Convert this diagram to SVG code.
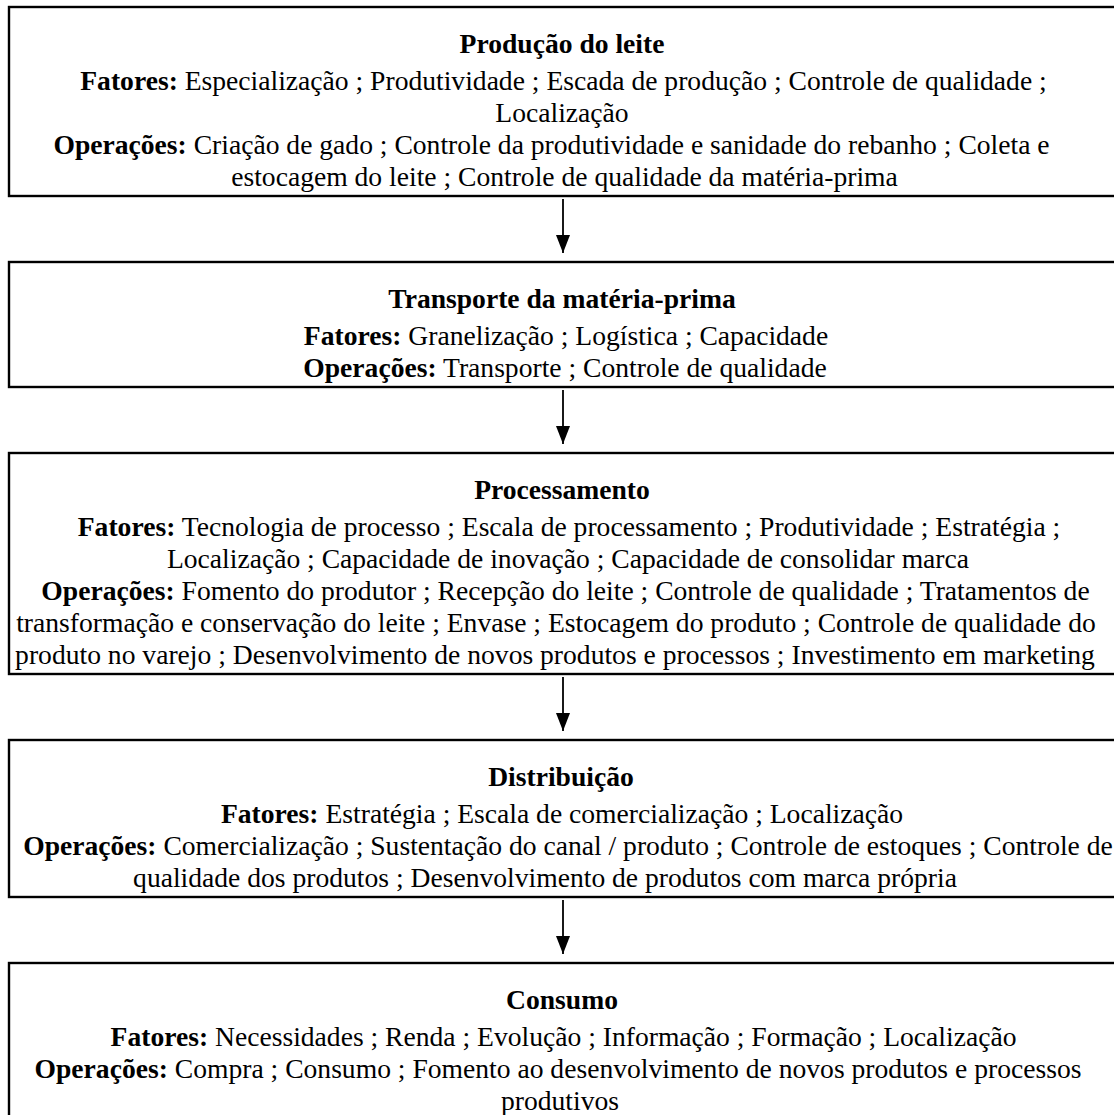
<svg xmlns="http://www.w3.org/2000/svg" width="1114" height="1115" viewBox="0 0 1114 1115">
<style>
.box{fill:#fff;stroke:#000;stroke-width:2.4}
text{font-family:"Liberation Serif","Times New Roman",serif;font-size:27.6px;fill:#000;text-anchor:middle}
.b{font-weight:bold}
.conn{stroke:#000;stroke-width:1.8;fill:none}
</style>
<defs>
<marker id="ah" viewBox="0 0 18 14" refX="18" refY="7" markerWidth="18" markerHeight="14" markerUnits="userSpaceOnUse" orient="auto">
<path d="M0,0 L18,7 L0,14 Z" fill="#000"/>
</marker>
</defs>
<rect width="1114" height="1115" fill="#fff"/>

<g id="connectors">
<line class="conn" x1="563" y1="199" x2="563" y2="253" marker-end="url(#ah)"/>
<line class="conn" x1="563" y1="390" x2="563" y2="444" marker-end="url(#ah)"/>
<line class="conn" x1="563" y1="677" x2="563" y2="731" marker-end="url(#ah)"/>
<line class="conn" x1="563" y1="900" x2="563" y2="954" marker-end="url(#ah)"/>
</g>

<g id="producao">
<rect class="box" x="9" y="7" width="1112" height="189"/>
<text x="562" y="53" class="b">Produção do leite</text>
<text x="563.5" y="90"><tspan class="b">Fatores:</tspan> Especialização ; Produtividade ; Escada de produção ; Controle de qualidade ;</text>
<text x="562" y="122">Localização</text>
<text x="551.5" y="154"><tspan class="b">Operações:</tspan> Criação de gado ; Controle da produtividade e sanidade do rebanho ; Coleta e</text>
<text x="564.5" y="186">estocagem do leite ; Controle de qualidade da matéria-prima</text>
</g>

<g id="transporte">
<rect class="box" x="9" y="262" width="1112" height="125"/>
<text x="562" y="308" class="b">Transporte da matéria-prima</text>
<text x="566" y="345"><tspan class="b">Fatores:</tspan> Granelização ; Logística ; Capacidade</text>
<text x="565" y="377"><tspan class="b">Operações:</tspan> Transporte ; Controle de qualidade</text>
</g>

<g id="processamento">
<rect class="box" x="9" y="453" width="1112" height="221"/>
<text x="562" y="499" class="b">Processamento</text>
<text x="569" y="536"><tspan class="b">Fatores:</tspan> Tecnologia de processo ; Escala de processamento ; Produtividade ; Estratégia ;</text>
<text x="568" y="568">Localização ; Capacidade de inovação ; Capacidade de consolidar marca</text>
<text x="565.5" y="600"><tspan class="b">Operações:</tspan> Fomento do produtor ; Recepção do leite ; Controle de qualidade ; Tratamentos de</text>
<text x="556" y="632">transformação e conservação do leite ; Envase ; Estocagem do produto ; Controle de qualidade do</text>
<text x="555" y="664">produto no varejo ; Desenvolvimento de novos produtos e processos ; Investimento em marketing</text>
</g>

<g id="distribuicao">
<rect class="box" x="9" y="740" width="1112" height="157"/>
<text x="561" y="786" class="b">Distribuição</text>
<text x="562" y="823"><tspan class="b">Fatores:</tspan> Estratégia ; Escala de comercialização ; Localização</text>
<text x="568" y="855"><tspan class="b">Operações:</tspan> Comercialização ; Sustentação do canal / produto ; Controle de estoques ; Controle de</text>
<text x="545" y="887">qualidade dos produtos ; Desenvolvimento de produtos com marca própria</text>
</g>

<g id="consumo">
<rect class="box" x="9" y="963" width="1112" height="160"/>
<text x="562" y="1009" class="b">Consumo</text>
<text x="563.5" y="1046"><tspan class="b">Fatores:</tspan> Necessidades ; Renda ; Evolução ; Informação ; Formação ; Localização</text>
<text x="558" y="1078"><tspan class="b">Operações:</tspan> Compra ; Consumo ; Fomento ao desenvolvimento de novos produtos e processos</text>
<text x="560" y="1110">produtivos</text>
</g>
</svg>
